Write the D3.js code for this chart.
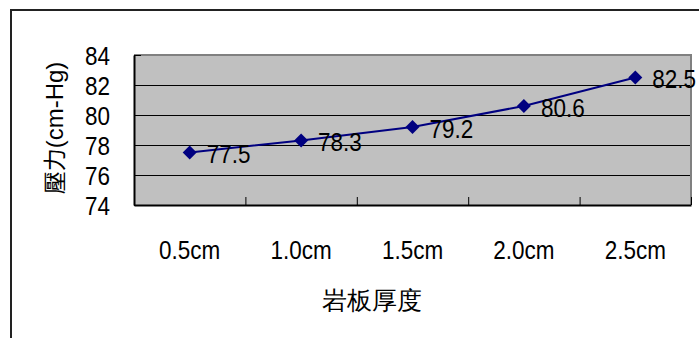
<!DOCTYPE html>
<html><head><meta charset="utf-8">
<script src="https://cdn.jsdelivr.net/npm/d3@7"></script>
<style>
html,body{margin:0;padding:0;background:#fff;overflow:hidden}
text{font-family:Arial,"Liberation Sans",sans-serif;fill:#000}
</style></head>
<body>
<script>
const categories = ["0.5cm","1.0cm","1.5cm","2.0cm","2.5cm"];
const values = [77.5, 78.3, 79.2, 80.6, 82.5];
const yTicks = [74, 76, 78, 80, 82, 84];
const xTitle = "岩板厚度";
const yTitleParts = ["壓力", "(cm-Hg)"];

const W = 699, H = 338;
const svg = d3.select("body").append("svg").attr("width", W).attr("height", H);
const SY = 1.18, FS = 22.5;

// outer chart frame (extends beyond the window)
svg.append("rect").attr("x", 11).attr("y", 10).attr("width", 900).attr("height", 500)
  .attr("fill", "#fff").attr("stroke", "#222").attr("stroke-width", 2);

const L = 134, R = 691, T = 55, B = 205;
const x = d3.scaleBand().domain(categories).range([L, R]).paddingInner(0).paddingOuter(0);
const y = d3.scaleLinear().domain([74, 84]).range([B, T]);

svg.append("rect").attr("x", L).attr("y", T).attr("width", R - L).attr("height", B - T)
  .attr("fill", "#c0c0c0");

// gridlines
svg.append("g").selectAll("line").data(yTicks.slice(1, -1)).join("line")
  .attr("x1", L).attr("x2", R).attr("y1", d => y(d)).attr("y2", d => y(d))
  .attr("stroke", "#000").attr("stroke-width", 1).attr("shape-rendering", "crispEdges");

// plot border top/right (gray)
svg.append("path").attr("d", `M${L},${T}H${R}V${B}`).attr("fill", "none")
  .attr("stroke", "#808080").attr("stroke-width", 2);

// y axis
const yAxis = svg.append("g").attr("transform", `translate(${L},0)`)
  .call(d3.axisLeft(y).tickValues(yTicks).tickSizeInner(-7).tickSizeOuter(0).tickPadding(24));
yAxis.select(".domain").attr("stroke", "#000").attr("stroke-width", 2);
yAxis.selectAll(".tick line").attr("stroke", "#000");
yAxis.selectAll(".tick text").attr("font-size", FS).attr("font-family", "Arial,'Liberation Sans',sans-serif")
  .attr("dy", "0.36em").attr("transform", `scale(1,${SY})`);

// x axis with category boundary ticks
const xb = d3.scaleLinear().domain([0, categories.length]).range([L, R]);
const xAxis = svg.append("g").attr("transform", `translate(0,${B})`)
  .call(d3.axisBottom(xb).tickValues(d3.range(0, categories.length + 1)).tickSizeInner(-8).tickSizeOuter(0).tickFormat(""));
xAxis.select(".domain").attr("stroke", "#000").attr("stroke-width", 2);
xAxis.selectAll(".tick line").attr("stroke", "#000");

// x category labels
svg.append("g").selectAll("text").data(categories).join("text")
  .attr("transform", d => `translate(${x(d) + x.bandwidth() / 2},259) scale(1,${SY})`)
  .attr("text-anchor", "middle").attr("font-size", FS).text(d => d);

// line
const cx = (d, i) => x(categories[i]) + x.bandwidth() / 2;
svg.append("path").datum(values)
  .attr("d", d3.line().x(cx).y(d => y(d)))
  .attr("fill", "none").attr("stroke", "#000080").attr("stroke-width", 2);

// markers
svg.append("g").selectAll("path").data(values).join("path")
  .attr("transform", (d, i) => `translate(${cx(d, i)},${y(d)})`)
  .attr("d", "M0,-7L7,0L0,7L-7,0Z").attr("fill", "#000080");

// data labels
svg.append("g").selectAll("text").data(values).join("text")
  .attr("transform", (d, i) => `translate(${cx(d, i) + 17},${y(d) + 10.5}) scale(1,${SY})`)
  .attr("font-size", FS).text(d => d3.format(".1f")(d));

// axis titles
svg.append("text").attr("x", 372).attr("y", 309).attr("text-anchor", "middle")
  .attr("font-family", "'Noto Sans CJK TC','Noto Sans CJK SC',sans-serif").attr("font-size", 25)
  .text(xTitle);
const yt = svg.append("text").attr("transform", `translate(63,128) rotate(-90)`)
  .attr("text-anchor", "middle").attr("font-size", 24).attr("fill", "#000");
yt.append("tspan").attr("font-family", "'Noto Sans CJK TC','Noto Sans CJK SC',sans-serif")
  .attr("font-size", 23).text(yTitleParts[0]);
yt.append("tspan").attr("font-family", "Arial,'Liberation Sans',sans-serif").text(yTitleParts[1]);
</script>
</body></html>
